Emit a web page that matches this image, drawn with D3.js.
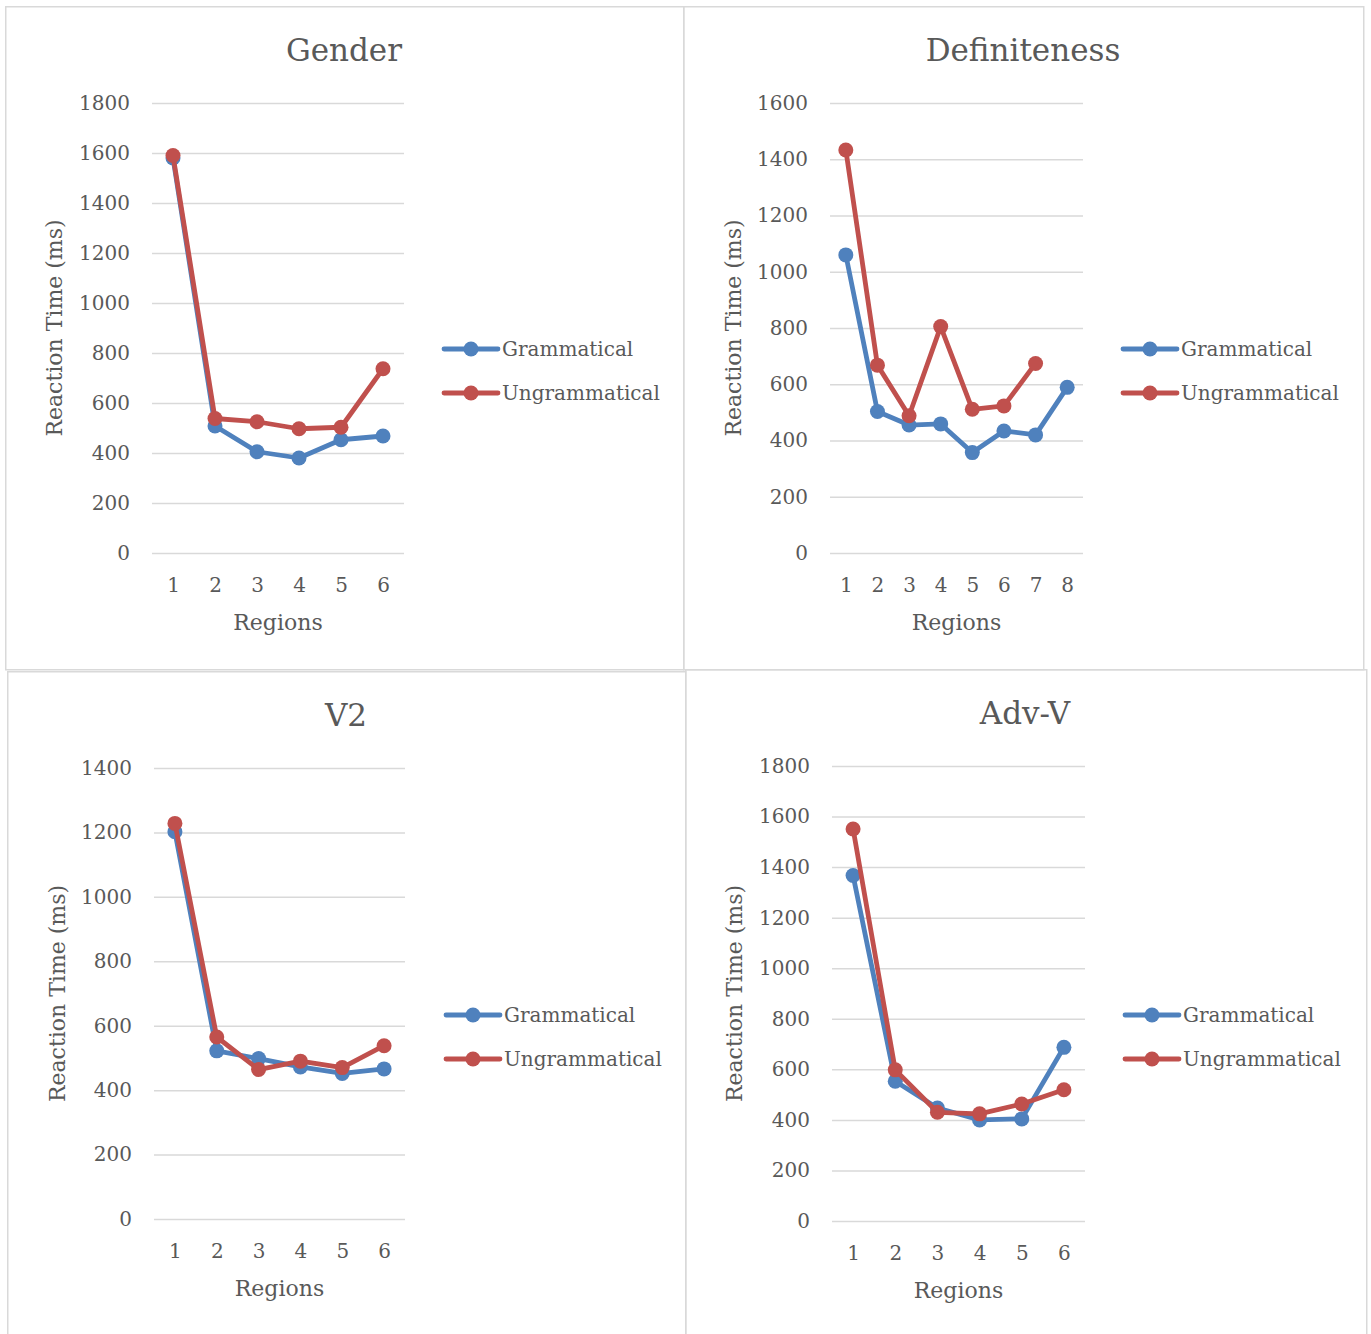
<!DOCTYPE html>
<html><head><meta charset="utf-8">
<script src="https://cdn.jsdelivr.net/npm/d3@7"></script>
<style>
body{margin:0;background:#fff;}
svg{display:block;}
text{font-family:"DejaVu Serif","Liberation Serif",serif;fill:#595959;}
</style></head>
<body>
<svg id="c" width="1371" height="1334"></svg>
<script>
const seriesNames = ["Grammatical", "Ungrammatical"];
const colors = ["#4f81bd", "#c0504d"];

const genderRegions = [1, 2, 3, 4, 5, 6];
const genderGram = [1580, 508, 405, 380, 453, 468];
const genderUngram = [1590, 538, 525, 497, 503, 737];
const genderTicks = [0, 200, 400, 600, 800, 1000, 1200, 1400, 1600, 1800];

const defRegions = [1, 2, 3, 4, 5, 6, 7, 8];
const defGram = [1060, 503, 455, 459, 357, 434, 420, 589];
const defUngram = [1433, 668, 488, 805, 511, 523, 674];
const defTicks = [0, 200, 400, 600, 800, 1000, 1200, 1400, 1600];

const v2Regions = [1, 2, 3, 4, 5, 6];
const v2Gram = [1202, 522, 498, 472, 452, 466];
const v2Ungram = [1228, 565, 464, 490, 470, 538];
const v2Ticks = [0, 200, 400, 600, 800, 1000, 1200, 1400];

const advRegions = [1, 2, 3, 4, 5, 6];
const advGram = [1367, 553, 447, 400, 404, 687];
const advUngram = [1551, 598, 430, 424, 463, 519];
const advTicks = [0, 200, 400, 600, 800, 1000, 1200, 1400, 1600, 1800];

const svg = d3.select("#c");

const panels = [
  {title:"Gender", regions:genderRegions, data:[genderGram, genderUngram], ticks:genderTicks,
   box:[5,6,678,663], plot:[152,404,103,553], titleX:344, titleY:61, ylabX:62, xlabY:630, legX:444, legY:[349,393]},
  {title:"Definiteness", regions:defRegions, data:[defGram, defUngram], ticks:defTicks,
   box:[683,6,680,663], plot:[830,1083,103,553], titleX:1023, titleY:61, ylabX:741, xlabY:630, legX:1123, legY:[349,393]},
  {title:"V2", regions:v2Regions, data:[v2Gram, v2Ungram], ticks:v2Ticks,
   box:[7,671,678,680], plot:[154,405,768,1219], titleX:346, titleY:726, ylabX:65, xlabY:1296, legX:446, legY:[1015,1059]},
  {title:"Adv-V", regions:advRegions, data:[advGram, advUngram], ticks:advTicks,
   box:[685,669,681,680], plot:[832,1085,766,1221], titleX:1025, titleY:724, ylabX:742, xlabY:1298, legX:1125, legY:[1015,1059]}
];

panels.forEach(p => {
  const [bx,by,bw,bh] = p.box;
  svg.append("rect").attr("x",bx+0.75).attr("y",by+0.75).attr("width",bw).attr("height",bh)
    .attr("fill","none").attr("stroke","#d9d9d9").attr("stroke-width",1.5);

  const [x0,x1,y0,y1] = p.plot;
  const x = d3.scalePoint().domain(p.regions).range([x0,x1]).padding(0.5);
  const y = d3.scaleLinear().domain([0, d3.max(p.ticks)]).range([y1,y0]);

  svg.append("text").attr("x",p.titleX).attr("y",p.titleY).attr("text-anchor","middle")
    .style("font-size","31px").text(p.title);

  const yAxis = d3.axisLeft(y).tickValues(p.ticks).tickSize(-(x1-x0)).tickPadding(22).tickFormat(d3.format("d"));
  const gy = svg.append("g").attr("transform",`translate(${x0},0)`).call(yAxis);
  gy.select(".domain").remove();
  gy.selectAll(".tick line").attr("stroke","#d9d9d9").attr("stroke-width",1.5);
  gy.selectAll(".tick text").style("font-size","20px").attr("fill","#595959");

  const xAxis = d3.axisBottom(x).tickSize(0).tickPadding(25);
  const gx = svg.append("g").attr("transform",`translate(0,${y1})`).call(xAxis);
  gx.select(".domain").remove();
  gx.selectAll(".tick text").style("font-size","20px").attr("fill","#595959");

  svg.append("text").attr("x",(x0+x1)/2).attr("y",p.xlabY).attr("text-anchor","middle")
    .style("font-size","22px").text("Regions");
  svg.append("text").attr("transform",`translate(${p.ylabX},${(y0+y1)/2}) rotate(-90)`)
    .attr("text-anchor","middle").style("font-size","22px").text("Reaction Time (ms)");

  p.data.forEach((vals,i) => {
    const pts = vals.map((v,j)=>[x(p.regions[j]), y(v)]);
    svg.append("path").attr("d", d3.line()(pts)).attr("fill","none")
      .attr("stroke",colors[i]).attr("stroke-width",4.8).attr("stroke-linejoin","round").attr("stroke-linecap","round");
    svg.append("g").selectAll("circle").data(pts).join("circle")
      .attr("cx",d=>d[0]).attr("cy",d=>d[1]).attr("r",7.5).attr("fill",colors[i]);
  });

  seriesNames.forEach((n,i) => {
    const ly = p.legY[i];
    svg.append("line").attr("x1",p.legX).attr("x2",p.legX+54).attr("y1",ly).attr("y2",ly)
      .attr("stroke",colors[i]).attr("stroke-width",4.8).attr("stroke-linecap","round");
    svg.append("circle").attr("cx",p.legX+27).attr("cy",ly).attr("r",7.5).attr("fill",colors[i]);
    svg.append("text").attr("x",p.legX+58).attr("y",ly).attr("dy","0.35em")
      .style("font-size","20px").text(n);
  });
});
</script>
</body></html>
